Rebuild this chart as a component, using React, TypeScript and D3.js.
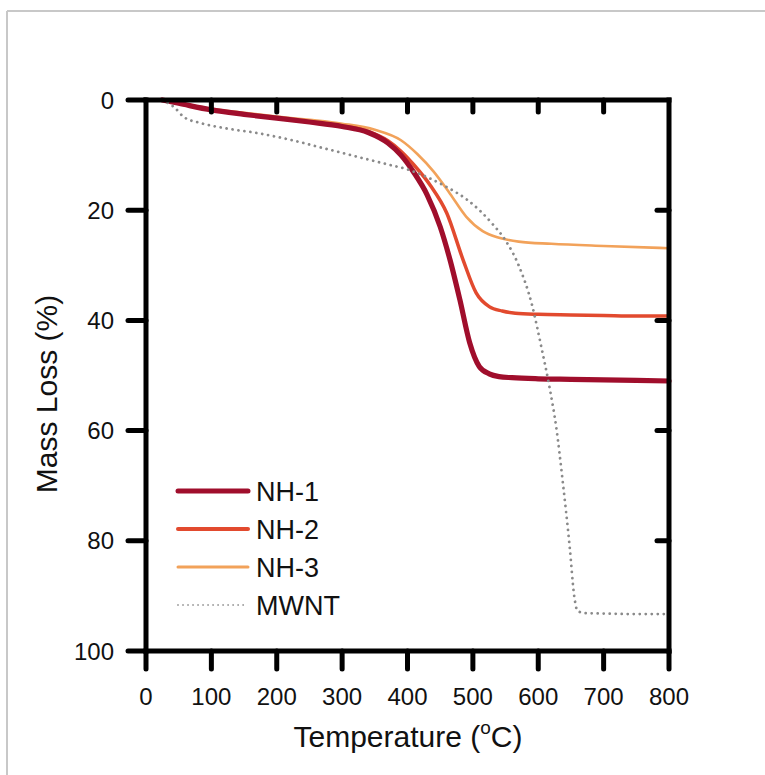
import React from "react";
import * as d3 from "d3";

const xTicks = [0, 100, 200, 300, 400, 500, 600, 700, 800];
const yTicks = [0, 20, 40, 60, 80, 100];

const nh1T = [25, 50, 100, 150, 200, 250, 300, 340, 370, 390, 410, 430, 450, 465, 480, 495, 510, 525, 540, 560, 600, 650, 700, 750, 800];
const nh1M = [0, 0.6, 1.8, 2.6, 3.3, 4.0, 4.8, 5.9, 7.8, 10.0, 13.2, 17.2, 23, 29, 36.2, 44, 48.4, 49.7, 50.2, 50.4, 50.6, 50.7, 50.8, 50.9, 51];

const nh2T = [25, 50, 100, 150, 200, 250, 300, 340, 370, 390, 410, 435, 460, 485, 505, 525, 545, 565, 600, 650, 700, 750, 800];
const nh2M = [0, 0.6, 1.8, 2.6, 3.3, 4.0, 4.7, 5.7, 7.4, 9.3, 11.8, 15.5, 20.5, 29, 35, 37.5, 38.3, 38.7, 38.9, 39.0, 39.1, 39.2, 39.2];

const nh3T = [25, 50, 100, 150, 200, 250, 300, 350, 390, 415, 440, 465, 490, 515, 540, 570, 620, 700, 800];
const nh3M = [0, 0.5, 1.6, 2.3, 3.0, 3.6, 4.3, 5.4, 7.3, 9.8, 13, 17, 21.2, 23.8, 25, 25.7, 26.1, 26.5, 26.9];

const mwntT = [25, 43, 58, 84, 120, 170, 220, 270, 320, 370, 400, 430, 460, 490, 510, 530, 550, 570, 590, 605, 617, 628, 637, 648, 655, 660, 670, 700, 750, 800];
const mwntM = [0, 1.3, 3.1, 4.2, 5.1, 6.0, 7.2, 8.7, 10.2, 11.7, 12.6, 14, 15.8, 18, 20, 22.5, 25.5, 30, 37, 45, 52, 59.8, 68.8, 81, 90, 92.7, 93.1, 93.2, 93.3, 93.3];

const seriesNames = ["NH-1", "NH-2", "NH-3", "MWNT"];

export default function App() {
  const x = d3.scaleLinear().domain([0, 800]).range([146, 669]);
  const y = d3.scaleLinear().domain([0, 100]).range([100, 651]);
  const line = d3
    .line<[number, number]>()
    .x((d) => x(d[0]))
    .y((d) => y(d[1]))
    .curve(d3.curveMonotoneX);
  const zip = (t: number[], m: number[]) => t.map((v, i) => [v, m[i]] as [number, number]);

  const styles = [
    { color: "#A00E2C", width: 5.2, lw: 5, lcolor: "#A00E2C" },
    { color: "#E24A2E", width: 3.5, lw: 4, lcolor: "#E24A2E" },
    { color: "#F2A25A", width: 2.6, lw: 3, lcolor: "#F2A25A" },
    { color: "#8A8A8A", width: 2.8, lw: 1.8, lcolor: "#9a9a9a" },
  ];
  const data = [zip(nh1T, nh1M), zip(nh2T, nh2M), zip(nh3T, nh3M), zip(mwntT, mwntM)];

  const font = "Arial, 'Liberation Sans', Helvetica, sans-serif";
  const x0 = x(0), x1 = x(800), y0 = y(0), y1 = y(100);

  return (
    <svg width={765} height={775} style={{ position: "absolute", left: 0, top: 0, background: "#fff" }} fontFamily={font}>
      <rect x={0} y={0} width={765} height={775} fill="#fff" />
      <line x1={7} y1={11} x2={765} y2={11} stroke="#c8c8c8" strokeWidth={2} />
      <line x1={7} y1={11} x2={7} y2={775} stroke="#c8c8c8" strokeWidth={2} />

      {[2, 1, 0].map((i) => (
        <path key={"s" + i} d={line(data[i]) || ""} fill="none" stroke={styles[i].color} strokeWidth={styles[i].width} strokeLinejoin="round" strokeLinecap="round" />
      ))}
      <path d={line(data[3]) || ""} fill="none" stroke={styles[3].color} strokeWidth={styles[3].width} strokeDasharray="0.01 6" strokeLinecap="round" />

      <g stroke="#000" strokeWidth={5} strokeLinecap="square">
        <line x1={x0} y1={y0} x2={x1} y2={y0} />
        <line x1={x0} y1={y1} x2={x1} y2={y1} />
        <line x1={x0} y1={y0} x2={x0} y2={y1} />
        <line x1={x1} y1={y0} x2={x1} y2={y1} />
      </g>
      <g stroke="#000" strokeWidth={5} strokeLinecap="round">
        {xTicks.map((t) => (
          <line key={"xb" + t} x1={x(t)} y1={y1} x2={x(t)} y2={y1 + 18} />
        ))}
        {xTicks.filter((t) => t > 0 && t < 800).map((t) => (
          <line key={"xt" + t} x1={x(t)} y1={y0} x2={x(t)} y2={y0 + 12} />
        ))}
        {yTicks.map((t) => (
          <line key={"yl" + t} x1={x0} y1={y(t)} x2={x0 - 18} y2={y(t)} />
        ))}
        {yTicks.filter((t) => t > 0 && t < 100).map((t) => (
          <line key={"yr" + t} x1={x1} y1={y(t)} x2={x1 - 12} y2={y(t)} />
        ))}
      </g>

      {xTicks.map((t) => (
        <text key={"xl" + t} x={x(t)} y={705} textAnchor="middle" fontSize={24} fill="#111">
          {t}
        </text>
      ))}
      {yTicks.map((t) => (
        <text key={"ylb" + t} x={114} y={y(t) + 8.5} textAnchor="end" fontSize={24} fill="#111">
          {t}
        </text>
      ))}

      <text x={408} y={747} textAnchor="middle" fontSize={30} fill="#111">
        Temperature (<tspan fontSize={19} dy={-13}>o</tspan>
        <tspan dy={13}>C)</tspan>
      </text>
      <text transform={`translate(57, 394) rotate(-90)`} textAnchor="middle" fontSize={30} fill="#111">
        Mass Loss (%)
      </text>

      {seriesNames.map((name, i) => {
        const ly = 491 + i * 38;
        return (
          <g key={name}>
            <line x1={178} x2={248} y1={ly} y2={ly} stroke={styles[i].lcolor} strokeWidth={styles[i].lw} strokeDasharray={i === 3 ? "0.01 5" : undefined} strokeLinecap="round" />
            <text x={256} y={ly + 10} fontSize={27} fill="#111">
              {name}
            </text>
          </g>
        );
      })}
    </svg>
  );
}
